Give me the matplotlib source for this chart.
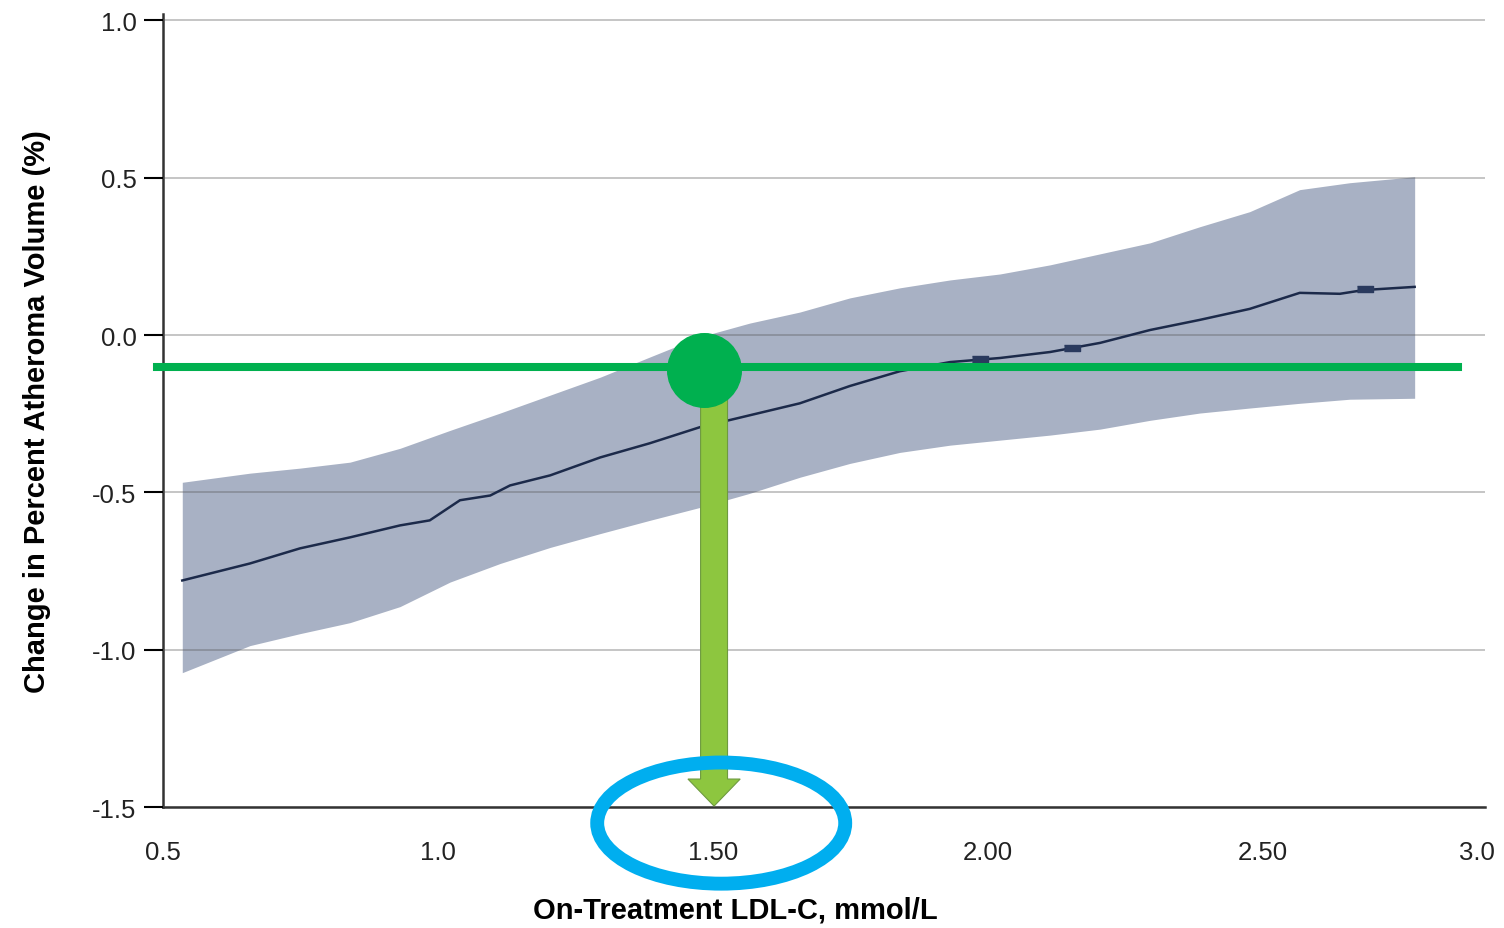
import matplotlib.pyplot as plt
from matplotlib.patches import Ellipse, FancyArrow

plt.rcParams['font.family'] = ['Liberation Sans', 'DejaVu Sans']

# banda de confianza
band_x = [0.535, 0.658, 0.749, 0.840, 0.931, 1.022, 1.113, 1.204, 1.295, 1.385,
          1.476, 1.567, 1.658, 1.749, 1.840, 1.931, 2.022, 2.113, 2.204, 2.295,
          2.385, 2.476, 2.567, 2.658, 2.776]
band_upper = [-0.468, -0.439, -0.423, -0.404, -0.360, -0.303, -0.248, -0.191, -0.134, -0.070,
              -0.006, 0.038, 0.073, 0.118, 0.150, 0.175, 0.194, 0.223, 0.258, 0.293,
              0.344, 0.392, 0.462, 0.484, 0.503]
band_lower = [-1.073, -0.987, -0.949, -0.914, -0.863, -0.785, -0.726, -0.675, -0.631, -0.589,
              -0.548, -0.503, -0.452, -0.408, -0.373, -0.350, -0.334, -0.318, -0.299, -0.271,
              -0.248, -0.232, -0.217, -0.204, -0.201]

# curva media
mean_x = [0.535, 0.658, 0.749, 0.840, 0.931, 0.985, 1.040, 1.095, 1.131, 1.204,
          1.295, 1.385, 1.476, 1.567, 1.658, 1.749, 1.840, 1.931, 2.022, 2.113,
          2.204, 2.295, 2.385, 2.476, 2.567, 2.640, 2.684, 2.776]
mean_y = [-0.780, -0.726, -0.678, -0.643, -0.605, -0.589, -0.525, -0.510, -0.478, -0.446,
          -0.389, -0.344, -0.293, -0.255, -0.217, -0.162, -0.115, -0.086, -0.073, -0.054,
          -0.025, 0.016, 0.048, 0.083, 0.134, 0.131, 0.143, 0.153]

# marcas pequeñas sobre la curva
mark_x = [1.985, 2.153, 2.685]
mark_y = [-0.075, -0.040, 0.145]

# anotaciones
target_y = -0.102
dot_x, dot_y = 1.484, -0.111
arrow_x = 1.502
ring_x, ring_y = 1.515, -1.551

xticks = [0.5, 1.0, 1.5, 2.0, 2.5, 2.89]
xticklabels = ['0.5', '1.0', '1.50', '2.00', '2.50', '3.0']
yticks = [-1.5, -1.0, -0.5, 0.0, 0.5, 1.0]
yticklabels = ['-1.5', '-1.0', '-0.5', '0.0', '0.5', '1.0']

fig = plt.figure(figsize=(15.04, 9.29), dpi=100)
ax = fig.add_axes([0.1084, 0.1302, 0.8790, 0.8536])

ax.fill_between(band_x, band_lower, band_upper, color='#a8b1c4', lw=0, zorder=1)
ax.plot(mean_x, mean_y, color='#1c2a4a', lw=1.8, zorder=3)
rect = [(-1, -0.45), (1, -0.45), (1, 0.45), (-1, 0.45)]
ax.plot(mark_x, mark_y, ls='none', marker=rect, markersize=11, color='#2a3a5e', zorder=3)

ax.set_xlim(0.5, 2.904)
ax.set_ylim(-1.5, 1.02)
ax.set_xticks(xticks)
ax.set_xticklabels(xticklabels)
ax.set_yticks(yticks)
ax.set_yticklabels(yticklabels)
ax.tick_params(axis='x', length=0, pad=24, labelsize=18.5, labelcolor='#222222')
ax.tick_params(axis='y', length=14, width=1.5, pad=5, labelsize=18.5, labelcolor='#222222')

ax.grid(axis='y', color='#555555', alpha=0.4, lw=1.2, zorder=2)
ax.set_axisbelow(False)
for s in ['top', 'right']:
    ax.spines[s].set_visible(False)
for s in ['left', 'bottom']:
    ax.spines[s].set_linewidth(1.8)
    ax.spines[s].set_color('#333333')

ax.set_xlabel('On-Treatment LDL-C, mmol/L', fontsize=21, fontweight='bold')
ax.xaxis.set_label_coords(0.433, -0.112)
ax.set_ylabel('Change in Percent Atheroma Volume (%)', fontsize=21, fontweight='bold')
ax.yaxis.set_label_coords(-0.085, 0.5)

# linea verde horizontal
ax.plot([0.489, 2.855], [target_y, target_y], color='#00b04f', lw=5.8, zorder=5, clip_on=False)

# flecha hacia abajo
arr = FancyArrow(arrow_x, -0.2, 0, -1.297, width=0.049, head_width=0.095,
                 head_length=0.086, length_includes_head=True,
                 facecolor='#8dc63f', edgecolor='#6e9a40', lw=0.8, zorder=6)
ax.add_patch(arr)

# punto verde
ax.plot([dot_x], [dot_y], marker='o', markersize=53, color='#00b04f', zorder=7, clip_on=False)

# elipse azul
ring = Ellipse((ring_x, ring_y), 0.451, 0.385, fill=False, edgecolor='#00aeef',
               lw=10, zorder=8, clip_on=False)
ax.add_patch(ring)

fig.savefig('out.png', dpi=100)
